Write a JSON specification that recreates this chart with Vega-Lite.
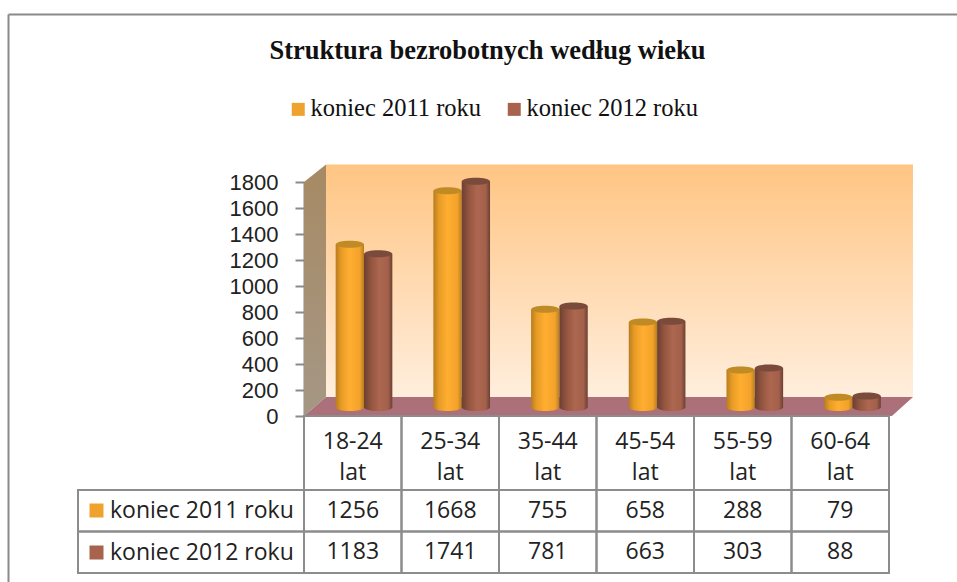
{
"$schema":"https://vega.github.io/schema/vega-lite/v6.json",
"autosize":"none","width":949,"height":568,
"padding":{"left":8,"top":14,"right":0,"bottom":0},
"background":"white",
"config":{"view":{"stroke":null},"font":"Open Sans"},
"title":{"text":"Struktura bezrobotnych według wieku","font":"Liberation Serif","fontSize":26.5,"fontWeight":"bold","color":"#111111","anchor":"middle","frame":"group","dx":5,"dy":54},
"datasets":{
"wiersze":[
{"wiek":"18-24 lat","seria":"koniec 2011 roku","wartosc":1256},{"wiek":"25-34 lat","seria":"koniec 2011 roku","wartosc":1668},{"wiek":"35-44 lat","seria":"koniec 2011 roku","wartosc":755},{"wiek":"45-54 lat","seria":"koniec 2011 roku","wartosc":658},{"wiek":"55-59 lat","seria":"koniec 2011 roku","wartosc":288},{"wiek":"60-64 lat","seria":"koniec 2011 roku","wartosc":79},
{"wiek":"18-24 lat","seria":"koniec 2012 roku","wartosc":1183},{"wiek":"25-34 lat","seria":"koniec 2012 roku","wartosc":1741},{"wiek":"35-44 lat","seria":"koniec 2012 roku","wartosc":781},{"wiek":"45-54 lat","seria":"koniec 2012 roku","wartosc":663},{"wiek":"55-59 lat","seria":"koniec 2012 roku","wartosc":303},{"wiek":"60-64 lat","seria":"koniec 2012 roku","wartosc":88}],
"sciana":[{"col":0.2256,"lo":146,"hi":1935},{"col":6.246,"lo":146,"hi":1935}],
"bok":[{"col":0,"lo":0,"hi":1800},{"col":0.2256,"lo":146,"hi":1935}],
"podloga":[{"col":0,"lo":0,"hi":0},{"col":0.2256,"lo":0,"hi":146},{"col":6.03,"lo":0,"hi":146},{"col":6.246,"lo":146,"hi":146}]
},
"resolve":{"scale":{"x":"independent","y":"independent","color":"independent","xOffset":"independent"}},
"layer":[
{"data":{"name":"bok"},"mark":{"type":"rule","opacity":0},
 "encoding":{"x":{"datum":0,"type":"quantitative","scale":{"domain":[0,1]},"axis":{"orient":"top","title":null,"labels":false,"ticks":false,"grid":false,"domainColor":"#8a8a8a","domainWidth":2}},
 "y":{"datum":0,"type":"quantitative","scale":{"domain":[0,1]},"axis":{"orient":"left","title":null,"labels":false,"ticks":false,"grid":false,"domainColor":"#8a8a8a","domainWidth":2}}}},
{"data":{"name":"sciana"},"mark":{"type":"area","fill":{"gradient":"linear","x1":0,"x2":0,"y1":0,"y2":1,"stops":[{"offset":0,"color":"#FFC583"},{"offset":1,"color":"#FFEEDD"}]}},
 "encoding":{"x":{"field":"col","type":"quantitative","scale":{"domain":[0,6],"range":[296,881],"nice":false,"zero":false},"axis":null},
 "y":{"field":"hi","type":"quantitative","scale":{"domain":[0,1800],"range":[402,168],"nice":false},"axis":null},"y2":{"field":"lo"}}},
{"data":{"name":"bok"},"mark":{"type":"area","fill":{"gradient":"linear","x1":0,"x2":0,"y1":0,"y2":1,"stops":[{"offset":0,"color":"#A78A64"},{"offset":1,"color":"#A59785"}]}},
 "encoding":{"x":{"field":"col","type":"quantitative","scale":{"domain":[0,6],"range":[296,881],"nice":false,"zero":false},"axis":null},
 "y":{"field":"hi","type":"quantitative","scale":{"domain":[0,1800],"range":[402,168],"nice":false},
 "axis":{"orient":"left","offset":-296,"title":null,"grid":false,"values":[0,200,400,600,800,1000,1200,1400,1600,1800],"format":"d","domainColor":"#8a8a8a","domainWidth":2,"tickColor":"#8a8a8a","tickWidth":2,"tickSize":9,"labelPadding":17,"labelFont":"Liberation Sans","labelFontSize":22,"labelColor":"#222222"}},"y2":{"field":"lo"}}},
{"data":{"name":"podloga"},"mark":{"type":"area","fill":"#AC707A"},
 "encoding":{"x":{"field":"col","type":"quantitative","scale":{"domain":[0,6],"range":[296,881],"nice":false,"zero":false},"axis":null},
 "y":{"field":"hi","type":"quantitative","scale":{"domain":[0,1800],"range":[402,168],"nice":false},"axis":null},"y2":{"field":"lo"}}},

{"data":{"name":"wiersze"},"transform":[{"filter":"datum.seria==='koniec 2011 roku'"}],
 "mark":{"type":"point","filled":true,"opacity":1,"size":784,"shape":"M-1,0 A1,0.25 0 1,1 1,0 A1,0.25 0 1,1 -1,0 Z","fill":{"gradient":"linear","x1":0,"x2":1,"y1":0,"y2":0,"stops":[{"offset":0,"color":"#B87D1E"},{"offset":0.2,"color":"#E89C26"},{"offset":0.5,"color":"#FFAE30"},{"offset":0.85,"color":"#F2A22A"},{"offset":1,"color":"#B87D1E"}]}},
 "encoding":{"x":{"field":"wiek","type":"nominal","scale":{"range":[307.15,893.35],"paddingInner":0.42,"paddingOuter":0.21},"axis":null},
 "xOffset":{"field":"seria","type":"nominal","scale":{"domain":["koniec 2011 roku","koniec 2012 roku"]}},
 "y":{"datum":0,"type":"quantitative","scale":{"domain":[0,1800],"range":[393.5,159.5],"nice":false},"axis":null}}},
{"data":{"name":"wiersze"},"transform":[{"filter":"datum.seria==='koniec 2011 roku'"}],
 "mark":{"type":"bar","fill":{"gradient":"linear","x1":0,"x2":1,"y1":0,"y2":0,"stops":[{"offset":0,"color":"#B87D1E"},{"offset":0.2,"color":"#E89C26"},{"offset":0.5,"color":"#FFAE30"},{"offset":0.85,"color":"#F2A22A"},{"offset":1,"color":"#B87D1E"}]}},
 "encoding":{"x":{"field":"wiek","type":"nominal","scale":{"range":[307.15,893.35],"paddingInner":0.42,"paddingOuter":0.21},"axis":null},
 "xOffset":{"field":"seria","type":"nominal","scale":{"domain":["koniec 2011 roku","koniec 2012 roku"]}},
 "y":{"field":"wartosc","type":"quantitative","scale":{"domain":[0,1800],"range":[393.5,159.5],"nice":false},"axis":null}}},
{"data":{"name":"wiersze"},"transform":[{"filter":"datum.seria==='koniec 2011 roku'"}],
 "mark":{"type":"point","filled":true,"opacity":1,"size":784,"fill":"#C08A25","shape":"M-1,0 A1,0.25 0 1,1 1,0 A1,0.25 0 1,1 -1,0 Z"},
 "encoding":{"x":{"field":"wiek","type":"nominal","scale":{"range":[307.15,893.35],"paddingInner":0.42,"paddingOuter":0.21},"axis":null},
 "xOffset":{"field":"seria","type":"nominal","scale":{"domain":["koniec 2011 roku","koniec 2012 roku"]}},
 "y":{"field":"wartosc","type":"quantitative","scale":{"domain":[0,1800],"range":[393.5,159.5],"nice":false},"axis":null}}},

{"data":{"name":"wiersze"},"transform":[{"filter":"datum.seria==='koniec 2012 roku'"}],
 "mark":{"type":"point","filled":true,"opacity":1,"size":784,"shape":"M-1,0 A1,0.25 0 1,1 1,0 A1,0.25 0 1,1 -1,0 Z","fill":{"gradient":"linear","x1":0,"x2":1,"y1":0,"y2":0,"stops":[{"offset":0,"color":"#6B4032"},{"offset":0.25,"color":"#93553F"},{"offset":0.55,"color":"#AD6750"},{"offset":0.85,"color":"#A3604A"},{"offset":1,"color":"#6B4032"}]}},
 "encoding":{"x":{"field":"wiek","type":"nominal","scale":{"range":[307.15,893.35],"paddingInner":0.42,"paddingOuter":0.21},"axis":null},
 "xOffset":{"field":"seria","type":"nominal","scale":{"domain":["koniec 2011 roku","koniec 2012 roku"]}},
 "y":{"datum":0,"type":"quantitative","scale":{"domain":[0,1800],"range":[393.5,159.5],"nice":false},"axis":null}}},
{"data":{"name":"wiersze"},"transform":[{"filter":"datum.seria==='koniec 2012 roku'"}],
 "mark":{"type":"bar","fill":{"gradient":"linear","x1":0,"x2":1,"y1":0,"y2":0,"stops":[{"offset":0,"color":"#6B4032"},{"offset":0.25,"color":"#93553F"},{"offset":0.55,"color":"#AD6750"},{"offset":0.85,"color":"#A3604A"},{"offset":1,"color":"#6B4032"}]}},
 "encoding":{"x":{"field":"wiek","type":"nominal","scale":{"range":[307.15,893.35],"paddingInner":0.42,"paddingOuter":0.21},"axis":null},
 "xOffset":{"field":"seria","type":"nominal","scale":{"domain":["koniec 2011 roku","koniec 2012 roku"]}},
 "y":{"field":"wartosc","type":"quantitative","scale":{"domain":[0,1800],"range":[393.5,159.5],"nice":false},"axis":null}}},
{"data":{"name":"wiersze"},"transform":[{"filter":"datum.seria==='koniec 2012 roku'"}],
 "mark":{"type":"point","filled":true,"opacity":1,"size":784,"fill":"#7A4A3B","shape":"M-1,0 A1,0.25 0 1,1 1,0 A1,0.25 0 1,1 -1,0 Z"},
 "encoding":{"x":{"field":"wiek","type":"nominal","scale":{"range":[307.15,893.35],"paddingInner":0.42,"paddingOuter":0.21},"axis":null},
 "xOffset":{"field":"seria","type":"nominal","scale":{"domain":["koniec 2011 roku","koniec 2012 roku"]}},
 "y":{"field":"wartosc","type":"quantitative","scale":{"domain":[0,1800],"range":[393.5,159.5],"nice":false},"axis":null}}},

{"data":{"name":"wiersze"},"transform":[{"filter":"datum.seria==='koniec 2011 roku'"}],
 "mark":{"type":"rect","fill":"white","fillOpacity":0,"stroke":"#8c8c8c","strokeWidth":2},
 "encoding":{"x":{"field":"wiek","type":"nominal","scale":{"range":[296,881],"paddingInner":0,"paddingOuter":0},"axis":null},
 "y":{"datum":"naglowek","type":"nominal","scale":{"domain":["naglowek"],"range":[402,476],"paddingInner":0,"paddingOuter":0},"axis":null}}},
{"data":{"name":"wiersze"},"transform":[{"filter":"datum.seria==='koniec 2011 roku'"}],
 "mark":{"type":"text","lineBreak":" ","lineHeight":31,"fontSize":23,"font":"Open Sans","color":"#222222","baseline":"middle","dy":-11},
 "encoding":{"x":{"field":"wiek","type":"nominal","scale":{"range":[296,881],"paddingInner":0,"paddingOuter":0},"axis":null},
 "y":{"datum":"naglowek","type":"nominal","scale":{"type":"band","domain":["naglowek"],"range":[402,476],"paddingInner":0,"paddingOuter":0},"axis":null},
 "text":{"field":"wiek"}}},
{"data":{"name":"wiersze"},
 "mark":{"type":"rect","fill":"white","fillOpacity":0,"stroke":"#8c8c8c","strokeWidth":2},
 "encoding":{"x":{"field":"wiek","type":"nominal","scale":{"range":[296,881],"paddingInner":0,"paddingOuter":0},"axis":null},
 "y":{"field":"seria","type":"nominal","scale":{"range":[476,559],"paddingInner":0,"paddingOuter":0},"axis":null}}},
{"data":{"name":"wiersze"},
 "mark":{"type":"text","fontSize":23,"font":"Open Sans","color":"#222222","baseline":"middle"},
 "encoding":{"x":{"field":"wiek","type":"nominal","scale":{"range":[296,881],"paddingInner":0,"paddingOuter":0},"axis":null},
 "y":{"field":"seria","type":"nominal","scale":{"type":"band","range":[476,559],"paddingInner":0,"paddingOuter":0},"axis":null},
 "text":{"field":"wartosc","type":"quantitative"}}},
{"data":{"name":"wiersze"},"transform":[{"filter":"datum.wiek==='18-24 lat'"}],
 "mark":{"type":"rect","fill":"white","fillOpacity":0,"stroke":"#8c8c8c","strokeWidth":2},
 "encoding":{"x":{"datum":"etykieta","type":"nominal","scale":{"domain":["etykieta"],"range":[70,296],"paddingInner":0,"paddingOuter":0},"axis":null},
 "y":{"field":"seria","type":"nominal","scale":{"range":[476,559],"paddingInner":0,"paddingOuter":0},"axis":null}}},

{"data":{"name":"wiersze"},"mark":{"type":"point","filled":true,"size":0},
 "encoding":{"color":{"field":"seria","type":"nominal","scale":{"range":["#F0A22E","#A8634F"]},
 "legend":{"orient":"none","legendX":278,"legendY":83,"direction":"horizontal","title":null,"symbolType":"square","symbolSize":169,"symbolOpacity":1,"symbolStrokeWidth":0,"labelFont":"Liberation Serif","labelFontSize":24.5,"labelColor":"#111111","labelLimit":300,"labelOffset":0,"columnPadding":20}}}},
{"data":{"name":"wiersze"},"mark":{"type":"point","filled":true,"size":0},
 "encoding":{"color":{"field":"seria","type":"nominal","scale":{"range":["#F0A22E","#A8634F"]},
 "legend":{"orient":"none","legendX":77,"legendY":485,"direction":"vertical","title":null,"symbolType":"square","symbolSize":196,"symbolOpacity":1,"symbolStrokeWidth":0,"labelFont":"Open Sans","labelFontSize":23,"labelColor":"#222222","labelLimit":300,"labelOffset":2,"rowPadding":18}}}}
]}
